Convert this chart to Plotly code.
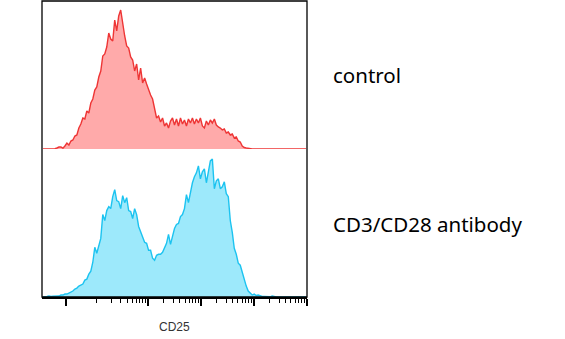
import numpy as np
import plotly.graph_objects as go

# ---- data -------------------------------------------------------------
# histogram counts on display bins (equal-width bins of the arcsinh scale)
control_counts = [
    0, 0, 0, 0, 0, 0, 0.3, 1, 2, 2, 0.8,
    3, 6, 4, 8, 9, 13, 14, 21, 25,
    31, 30, 38, 36, 46, 50, 59, 62, 72, 78, 93, 95, 102, 116, 110, 108, 129, 118, 133, 139,
    124, 113, 103, 101, 92, 89, 78, 85, 69, 81, 66, 71, 65, 59, 54, 50, 39, 31, 33, 27,
    31, 23, 26, 21, 28, 31, 24, 30, 23, 31, 25, 29, 23, 30, 26, 31, 25, 30, 26, 31,
    23, 21, 28, 24, 29, 26, 30, 24, 22, 21, 19, 20, 16, 17, 14, 15, 11, 12, 8, 7,
    3, 1.5, 1, 0.5, 0.2, 0, 0, 0, 0, 0, 0, 0, 0, 0, 0, 0, 0, 0, 0, 0,
    0, 0, 0, 0, 0, 0, 0, 0, 0, 0, 0, 0, 0,
]
stim_counts = [
    0, 0, 0.5, 1, 0.5, 0.8, 1, 1.5, 1, 2, 2, 3, 3, 4, 5, 6, 8, 9, 11, 12,
    13, 17, 18, 23, 26, 35, 50, 44, 53, 59, 83, 77, 87, 91, 89, 101, 108, 97, 96, 89,
    102, 95, 100, 87, 86, 79, 89, 83, 71, 65, 59, 55, 54, 47, 47, 39, 37, 42, 43, 43,
    45, 49, 54, 63, 53, 61, 69, 73, 74, 81, 83, 89, 103, 95, 106, 115, 121, 125, 132, 119,
    126, 129, 115, 126, 137, 139, 109, 117, 119, 109, 111, 116, 104, 101, 77, 65, 49, 43, 34, 32,
    24, 18, 11, 6, 4, 2, 3, 1.5, 2, 1, 0.5, 0.5, 0.3, 0.5, 0.2, 1, 0.2, 0, 0, 0,
    0, 0, 0, 0, 0, 0, 0, 0, 0, 0, 0, 0, 0,
]
sample_labels = ["control", "CD3/CD28 antibody"]
axis_title = "CD25"
major_tick_values = [0, 1e3, 1e4, 1e5, 1e6]
minor_tick_values = ([k * 100 for k in range(1, 10)] + [k * 1e3 for k in range(2, 10)]
                     + [k * 1e4 for k in range(2, 10)] + [k * 1e5 for k in range(2, 10)])

# ---- scale (arcsinh display transform, like a flow-cytometry biex axis) ----
COFACTOR = 56.6
T_MIN, T_MAX = -1.043, 10.478


def tf(v):
    return np.arcsinh(np.asarray(v, dtype=float) / COFACTOR)


n_bins = len(control_counts)
edges = np.linspace(T_MIN, T_MAX, n_bins + 1)
centers = (edges[:-1] + edges[1:]) / 2

fig = go.Figure()
fig.add_trace(go.Scatter(
    x=centers, y=control_counts, xaxis="x", yaxis="y2", mode="lines",
    line=dict(color="#EE3535", width=1.4), fill="tozeroy",
    fillcolor="#FFAAAA", showlegend=False, hoverinfo="skip"))
fig.add_trace(go.Scatter(
    x=centers, y=stim_counts, xaxis="x", yaxis="y", mode="lines",
    line=dict(color="#1CC3F0", width=1.4), fill="tozeroy",
    fillcolor="#9DE9FB", showlegend=False, hoverinfo="skip"))

fig.update_layout(
    width=565, height=339,
    margin=dict(l=42, r=258, t=1, b=42),
    paper_bgcolor="white", plot_bgcolor="white",
    xaxis=dict(
        range=[T_MIN, T_MAX], anchor="y", showgrid=False, zeroline=False,
        showline=True, linecolor="black", linewidth=1.5,
        ticks="outside", tickvals=tf(major_tick_values), ticktext=[""] * len(major_tick_values),
        ticklen=7, tickwidth=2, tickcolor="black",
        minor=dict(tickvals=tf(minor_tick_values), ticks="outside", ticklen=4,
                   tickwidth=1, tickcolor="black", showgrid=False),
    ),
    yaxis=dict(domain=[0, 0.5], range=[0, 149], showgrid=False, zeroline=False,
               showticklabels=False, ticks=""),
    yaxis2=dict(domain=[0.5, 1], range=[0, 148], showgrid=False, zeroline=False,
                showticklabels=False, ticks=""),
    shapes=[dict(type="rect", xref="paper", yref="paper", x0=0, x1=1, y0=0, y1=1,
                 line=dict(color="black", width=1.3), layer="above")],
    annotations=[
        dict(text=axis_title, xref="paper", yref="paper", x=0.5, y=-0.101,
             xanchor="center", yanchor="middle", showarrow=False,
             font=dict(family="Liberation Sans, Arial", size=12, color="#333333")),
        dict(text=sample_labels[0], xref="paper", yref="paper", x=1.09, y=0.75,
             xanchor="left", yanchor="middle", showarrow=False,
             font=dict(family="Noto Sans", size=20.5, color="black")),
        dict(text=sample_labels[1], xref="paper", yref="paper", x=1.09, y=0.247,
             xanchor="left", yanchor="middle", showarrow=False,
             font=dict(family="Noto Sans", size=20.5, color="black")),
    ],
)

fig.write_html("out.html")
